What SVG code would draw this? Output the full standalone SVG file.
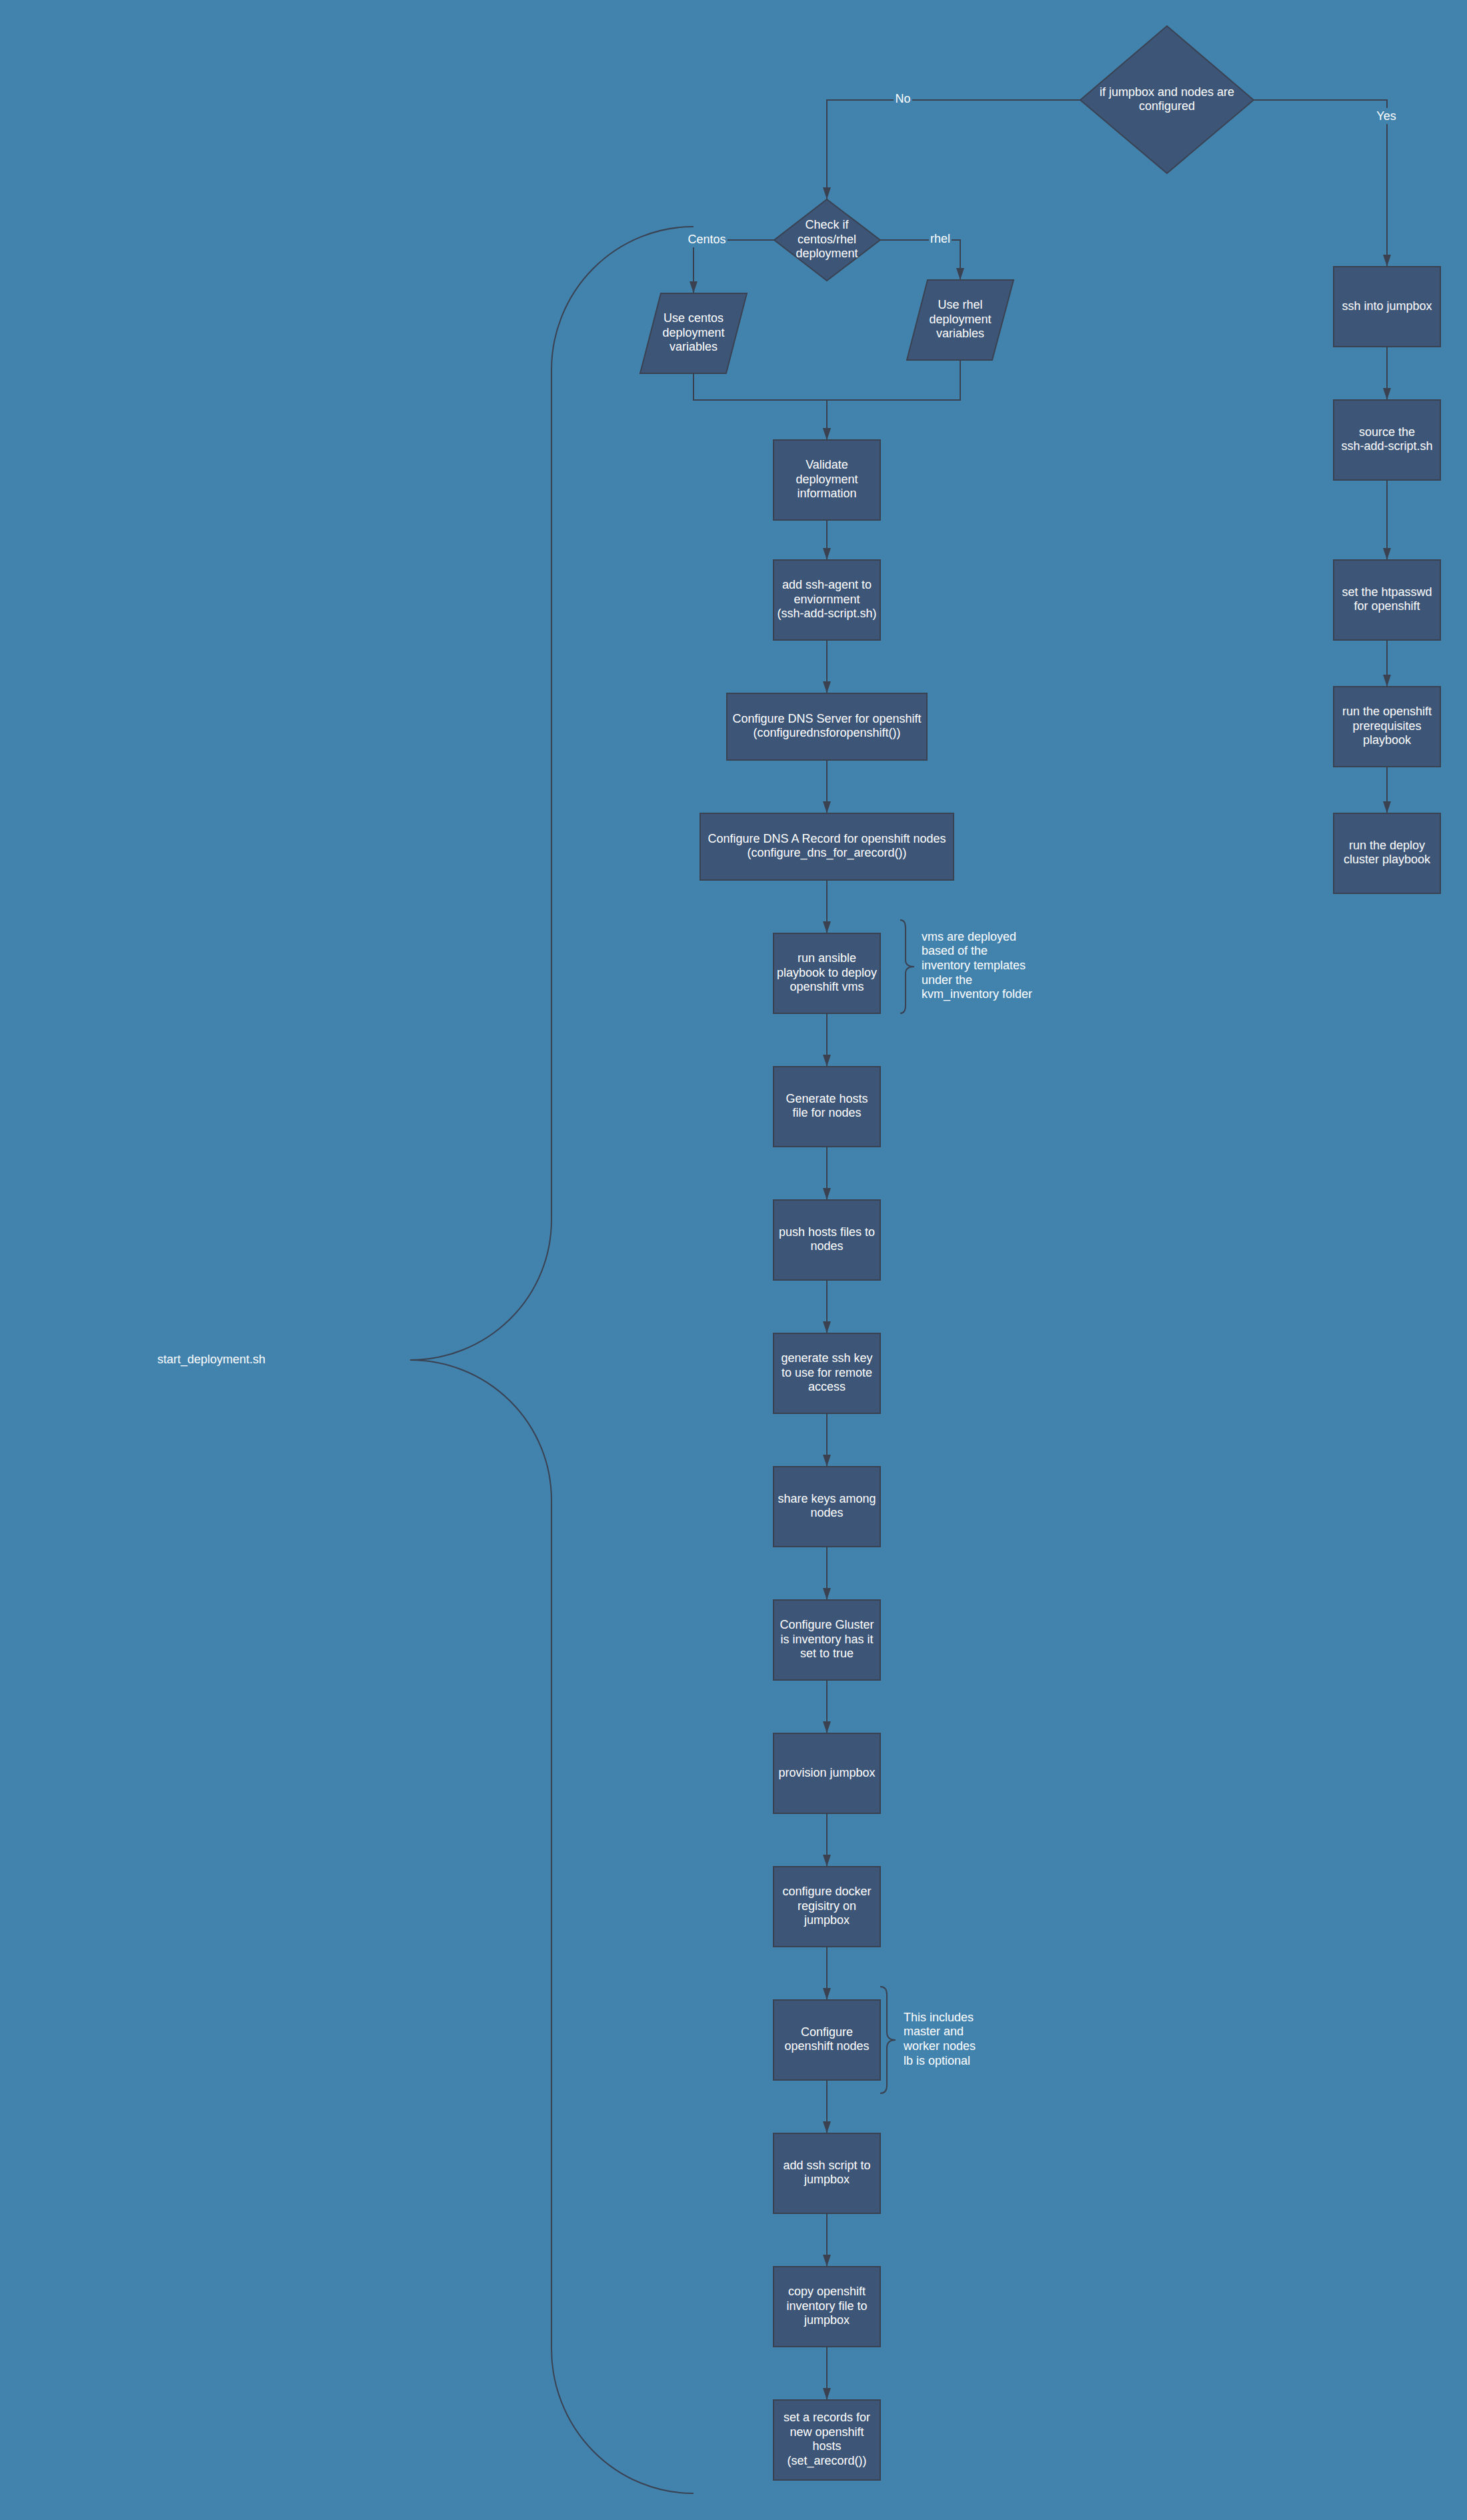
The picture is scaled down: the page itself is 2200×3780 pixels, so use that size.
<svg xmlns="http://www.w3.org/2000/svg" width="2200" height="3780" viewBox="0 0 2200 3780">
<defs>
<style>
.bg{fill:#4283ae}
.node{fill:#3d5678;stroke:#3a4252;stroke-width:2}
.conn{fill:none;stroke:#3a4252;stroke-width:2}
.arr{marker-end:url(#arrow)}
.t{font-family:"Liberation Sans",Arial,sans-serif;font-size:18px;fill:#ffffff;text-anchor:middle}
.ts{font-family:"Liberation Sans",Arial,sans-serif;font-size:18px;fill:#ffffff;text-anchor:start}
.lblbg{fill:#4283ae}
</style>
<marker id="arrow" markerUnits="userSpaceOnUse" markerWidth="18" markerHeight="12" refX="18" refY="6" orient="auto">
<path d="M0,0 L18,6 L0,12 z" fill="#3a4252"/>
</marker>
</defs>
<rect class="bg" x="0" y="0" width="2200" height="3780"/>

<g id="connectors">
<path class="conn arr" d="M1620,150 L1240,150 L1240,299"/>
<path class="conn arr" d="M1880,150 L2080,150 L2080,400"/>
<path class="conn arr" d="M1161,360 L1040,360 L1040,440"/>
<path class="conn arr" d="M1320,360 L1440,360 L1440,420"/>
<path class="conn arr" d="M1040,560 L1040,600 L1240,600 L1240,660"/>
<path class="conn arr" d="M1440,540 L1440,600 L1240,600 L1240,660"/>
<path class="conn arr" d="M1240,780 L1240,840"/>
<path class="conn arr" d="M1240,960 L1240,1040"/>
<path class="conn arr" d="M1240,1140 L1240,1220"/>
<path class="conn arr" d="M1240,1320 L1240,1400"/>
<path class="conn arr" d="M1240,1520 L1240,1600"/>
<path class="conn arr" d="M1240,1720 L1240,1800"/>
<path class="conn arr" d="M1240,1920 L1240,2000"/>
<path class="conn arr" d="M1240,2120 L1240,2200"/>
<path class="conn arr" d="M1240,2320 L1240,2400"/>
<path class="conn arr" d="M1240,2520 L1240,2600"/>
<path class="conn arr" d="M1240,2720 L1240,2800"/>
<path class="conn arr" d="M1240,2920 L1240,3000"/>
<path class="conn arr" d="M1240,3120 L1240,3200"/>
<path class="conn arr" d="M1240,3320 L1240,3400"/>
<path class="conn arr" d="M1240,3520 L1240,3600"/>
<path class="conn arr" d="M2080,520 L2080,600"/>
<path class="conn arr" d="M2080,720 L2080,840"/>
<path class="conn arr" d="M2080,960 L2080,1030"/>
<path class="conn arr" d="M2080,1150 L2080,1220"/>
</g>

<g id="labels">
<rect class="lblbg" x="1340" y="136" width="28" height="24"/>
<text class="t" x="1354" y="153.5">No</text>
<rect class="lblbg" x="2062" y="162" width="35" height="24"/>
<text class="t" x="2079" y="179.5">Yes</text>
<rect class="lblbg" x="1029" y="346" width="62" height="25"/>
<text class="t" x="1060" y="364.5">Centos</text>
<rect class="lblbg" x="1393" y="346" width="34" height="24"/>
<text class="t" x="1410" y="363.5">rhel</text>
</g>

<g id="bigbrace">
<path class="conn" d="M1040,340 A213,215 0 0 0 827,555 L827,1830 A212,210 0 0 1 615,2040 A212,210 0 0 1 827,2250 L827,3523 A213,217 0 0 0 1040,3740"/>
<text class="ts" x="236" y="2044.5">start_deployment.sh</text>
</g>

<g id="note-vms">
<path class="conn" d="M1350,1380 Q1358,1380 1358,1392 L1358,1440 Q1358,1450 1371,1450 Q1358,1450 1358,1460 L1358,1508 Q1358,1520 1350,1520"/>
<text class="ts" x="1382"><tspan x="1382" y="1410.5">vms are deployed</tspan><tspan x="1382" y="1432">based of the</tspan><tspan x="1382" y="1454">inventory templates</tspan><tspan x="1382" y="1475.5">under the</tspan><tspan x="1382" y="1497">kvm_inventory folder</tspan></text>
</g>

<g id="note-nodes">
<path class="conn" d="M1320,2980 Q1330,2980 1330,2992 L1330,3048 Q1330,3060 1343,3060 Q1330,3060 1330,3072 L1330,3128 Q1330,3140 1320,3140"/>
<text class="ts" x="1355"><tspan x="1355" y="3031.5">This includes</tspan><tspan x="1355" y="3053">master and</tspan><tspan x="1355" y="3075">worker nodes</tspan><tspan x="1355" y="3097">lb is optional</tspan></text>
</g>

<g id="n-jumpcheck">
<polygon class="node" points="1750,39 1880,150 1750,260 1620,150"/>
<text class="t"><tspan x="1750" y="143.7">if jumpbox and nodes are</tspan><tspan x="1750" y="165.3">configured</tspan></text>
</g>

<g id="n-oscheck">
<polygon class="node" points="1240,299 1320,360 1240,421 1161,360"/>
<text class="t"><tspan x="1240" y="342.9">Check if</tspan><tspan x="1240" y="364.5">centos/rhel</tspan><tspan x="1240" y="386.1">deployment</tspan></text>
</g>

<g id="n-centos">
<polygon class="node" points="991,440 1120,440 1089,560 960,560"/>
<text class="t"><tspan x="1040" y="482.9">Use centos</tspan><tspan x="1040" y="504.5">deployment</tspan><tspan x="1040" y="526.1">variables</tspan></text>
</g>

<g id="n-rhel">
<polygon class="node" points="1391,420 1520,420 1488,540 1360,540"/>
<text class="t"><tspan x="1440" y="462.9">Use rhel</tspan><tspan x="1440" y="484.5">deployment</tspan><tspan x="1440" y="506.1">variables</tspan></text>
</g>

<g id="n-validate">
<rect class="node" x="1160" y="660" width="160" height="120"/>
<text class="t"><tspan x="1240" y="702.9">Validate</tspan><tspan x="1240" y="724.5">deployment</tspan><tspan x="1240" y="746.1">information</tspan></text>
</g>

<g id="n-sshagent">
<rect class="node" x="1160" y="840" width="160" height="120"/>
<text class="t"><tspan x="1240" y="882.9">add ssh-agent to</tspan><tspan x="1240" y="904.5">enviornment</tspan><tspan x="1240" y="926.1">(ssh-add-script.sh)</tspan></text>
</g>

<g id="n-dnsserver">
<rect class="node" x="1090" y="1040" width="300" height="100"/>
<text class="t"><tspan x="1240" y="1083.7">Configure DNS Server for openshift</tspan><tspan x="1240" y="1105.3">(configurednsforopenshift())</tspan></text>
</g>

<g id="n-dnsarecord">
<rect class="node" x="1050" y="1220" width="380" height="100"/>
<text class="t"><tspan x="1240" y="1263.7">Configure DNS A Record for openshift nodes</tspan><tspan x="1240" y="1285.3">(configure_dns_for_arecord())</tspan></text>
</g>

<g id="n-ansible">
<rect class="node" x="1160" y="1400" width="160" height="120"/>
<text class="t"><tspan x="1240" y="1442.9">run ansible</tspan><tspan x="1240" y="1464.5">playbook to deploy</tspan><tspan x="1240" y="1486.1">openshift vms</tspan></text>
</g>

<g id="n-genhosts">
<rect class="node" x="1160" y="1600" width="160" height="120"/>
<text class="t"><tspan x="1240" y="1653.7">Generate hosts</tspan><tspan x="1240" y="1675.3">file for nodes</tspan></text>
</g>

<g id="n-pushhosts">
<rect class="node" x="1160" y="1800" width="160" height="120"/>
<text class="t"><tspan x="1240" y="1853.7">push hosts files to</tspan><tspan x="1240" y="1875.3">nodes</tspan></text>
</g>

<g id="n-genkey">
<rect class="node" x="1160" y="2000" width="160" height="120"/>
<text class="t"><tspan x="1240" y="2042.9">generate ssh key</tspan><tspan x="1240" y="2064.5">to use for remote</tspan><tspan x="1240" y="2086.1">access</tspan></text>
</g>

<g id="n-sharekeys">
<rect class="node" x="1160" y="2200" width="160" height="120"/>
<text class="t"><tspan x="1240" y="2253.7">share keys among</tspan><tspan x="1240" y="2275.3">nodes</tspan></text>
</g>

<g id="n-gluster">
<rect class="node" x="1160" y="2400" width="160" height="120"/>
<text class="t"><tspan x="1240" y="2442.9">Configure Gluster</tspan><tspan x="1240" y="2464.5">is inventory has it</tspan><tspan x="1240" y="2486.1">set to true</tspan></text>
</g>

<g id="n-provision">
<rect class="node" x="1160" y="2600" width="160" height="120"/>
<text class="t" x="1240" y="2664.5">provision jumpbox</text>
</g>

<g id="n-docker">
<rect class="node" x="1160" y="2800" width="160" height="120"/>
<text class="t"><tspan x="1240" y="2842.9">configure docker</tspan><tspan x="1240" y="2864.5">regisitry on</tspan><tspan x="1240" y="2886.1">jumpbox</tspan></text>
</g>

<g id="n-osnodes">
<rect class="node" x="1160" y="3000" width="160" height="120"/>
<text class="t"><tspan x="1240" y="3053.7">Configure</tspan><tspan x="1240" y="3075.3">openshift nodes</tspan></text>
</g>

<g id="n-sshscript">
<rect class="node" x="1160" y="3200" width="160" height="120"/>
<text class="t"><tspan x="1240" y="3253.7">add ssh script to</tspan><tspan x="1240" y="3275.3">jumpbox</tspan></text>
</g>

<g id="n-copyinv">
<rect class="node" x="1160" y="3400" width="160" height="120"/>
<text class="t"><tspan x="1240" y="3442.9">copy openshift</tspan><tspan x="1240" y="3464.5">inventory file to</tspan><tspan x="1240" y="3486.1">jumpbox</tspan></text>
</g>

<g id="n-setarecord">
<rect class="node" x="1160" y="3600" width="160" height="120"/>
<text class="t"><tspan x="1240" y="3632.1">set a records for</tspan><tspan x="1240" y="3653.7">new openshift</tspan><tspan x="1240" y="3675.3">hosts</tspan><tspan x="1240" y="3696.9">(set_arecord())</tspan></text>
</g>

<g id="n-sshjump">
<rect class="node" x="2000" y="400" width="160" height="120"/>
<text class="t" x="2080" y="464.5">ssh into jumpbox</text>
</g>

<g id="n-source">
<rect class="node" x="2000" y="600" width="160" height="120"/>
<text class="t"><tspan x="2080" y="653.7">source the</tspan><tspan x="2080" y="675.3">ssh-add-script.sh</tspan></text>
</g>

<g id="n-htpasswd">
<rect class="node" x="2000" y="840" width="160" height="120"/>
<text class="t"><tspan x="2080" y="893.7">set the htpasswd</tspan><tspan x="2080" y="915.3">for openshift</tspan></text>
</g>

<g id="n-prereq">
<rect class="node" x="2000" y="1030" width="160" height="120"/>
<text class="t"><tspan x="2080" y="1072.9">run the openshift</tspan><tspan x="2080" y="1094.5">prerequisites</tspan><tspan x="2080" y="1116.1">playbook</tspan></text>
</g>

<g id="n-deploy">
<rect class="node" x="2000" y="1220" width="160" height="120"/>
<text class="t"><tspan x="2080" y="1273.7">run the deploy</tspan><tspan x="2080" y="1295.3">cluster playbook</tspan></text>
</g>
</svg>
